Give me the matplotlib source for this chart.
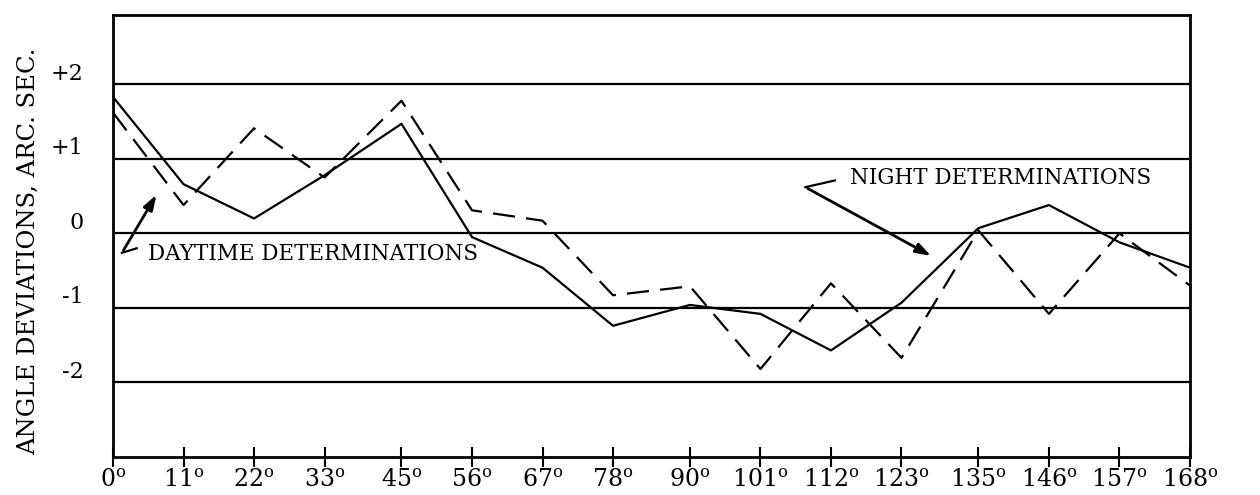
import matplotlib
matplotlib.use("Agg")
import matplotlib.pyplot as plt
from matplotlib.transforms import ScaledTranslation

plt.rcParams["font.family"] = "DejaVu Serif"
plt.rcParams["mathtext.fontset"] = "dejavuserif"

# Angle positions (degrees) and deviations (arc sec)
angles = [0, 11, 22, 33, 45, 56, 67, 78, 90, 101, 112, 123, 135, 146, 157, 168]
night = [1.83, 0.66, 0.20, 0.78, 1.47, -0.05, -0.46, -1.24, -0.96, -1.08,
         -1.57, -0.93, 0.07, 0.38, -0.12, -0.46]
daytime = [1.62, 0.38, 1.41, 0.75, 1.78, 0.31, 0.17, -0.83, -0.71, -1.82,
           -0.67, -1.67, 0.04, -1.08, 0.00, -0.70]
y_levels = [2, 1, 0, -1, -2]
y_labels = ["+2", "+1", "0", "-1", "-2"]

fig = plt.figure(figsize=(12.6, 4.95), dpi=100)
ax = fig.add_axes([0.0897, 0.0768, 0.8547, 0.8929])

for y in y_levels:
    ax.axhline(y, color="black", linewidth=1.6, zorder=1)

ax.plot(angles, night, color="black", linewidth=1.6, zorder=3)
ax.plot(angles, daytime, color="black", linewidth=1.6, dashes=(10, 5), zorder=3)

ax.set_xlim(0, 168)
ax.set_ylim(-3.0, 2.93)

ax.set_xticks(angles)
ax.set_xticklabels([r"$\mathregular{%d^o}$" % a for a in angles], fontsize=17)
ax.tick_params(axis="x", direction="inout", length=14, width=1.5, pad=2)

ax.set_yticks(y_levels)
ax.set_yticklabels(y_labels, fontsize=16)
ax.tick_params(axis="y", length=0, pad=21)
for lab in ax.get_yticklabels():
    lab.set_transform(lab.get_transform() + ScaledTranslation(0, 0.13, fig.dpi_scale_trans))

for sp in ax.spines.values():
    sp.set_linewidth(2)

ax.set_ylabel("ANGLE DEVIATIONS, ARC. SEC.", fontsize=17.5)
ax.yaxis.set_label_coords(-0.068, 0.466)

# Daytime label and arrow
ax.text(5.5, -0.27, "DAYTIME DETERMINATIONS", fontsize=15.5, va="center", ha="left")
ax.plot([1.4, 3.7], [-0.26, -0.2], color="black", linewidth=1.6)
ax.annotate("", xy=(7.0, 0.55), xytext=(1.4, -0.26),
            arrowprops=dict(arrowstyle="-|>,head_length=0.9,head_width=0.3",
                            color="black", lw=2))

# Night label and arrow
ax.text(115, 0.74, "NIGHT DETERMINATIONS", fontsize=15.5, va="center", ha="left")
ax.plot([112.6, 108], [0.71, 0.62], color="black", linewidth=1.6)
ax.annotate("", xy=(128, -0.32), xytext=(108, 0.62),
            arrowprops=dict(arrowstyle="-|>,head_length=0.9,head_width=0.3",
                            color="black", lw=2))

fig.savefig("out.png", dpi=100)
